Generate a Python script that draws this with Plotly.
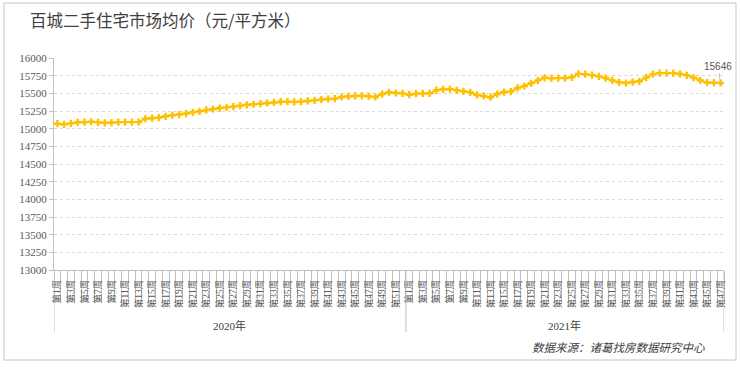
import plotly.graph_objects as go

title_text = "百城二手住宅市场均价（元/平方米）"
source_text = "数据来源：诸葛找房数据研究中心"
years = ["2020年", "2021年"]
weeks_2020 = ["第%d周" % i for i in range(1, 53)]
weeks_2021 = ["第%d周" % i for i in range(1, 48)]

prices_2020 = [15070, 15062, 15075, 15090, 15092, 15098, 15090, 15082, 15085, 15092,
               15093, 15093, 15093, 15142, 15150, 15156, 15175, 15190, 15200, 15212,
               15231, 15245, 15265, 15278, 15292, 15302, 15312, 15326, 15338, 15345,
               15354, 15363, 15372, 15382, 15382, 15378, 15382, 15392, 15401, 15413,
               15420, 15425, 15448, 15458, 15463, 15465, 15458, 15448, 15490, 15515,
               15505, 15500]
prices_2021 = [15481, 15495, 15500, 15500, 15543, 15557, 15560, 15543, 15529, 15514,
               15477, 15463, 15445, 15490, 15518, 15524, 15576, 15604, 15642, 15684,
               15720, 15712, 15715, 15715, 15727, 15776, 15772, 15758, 15740, 15716,
               15684, 15656, 15646, 15660, 15670, 15722, 15772, 15786, 15786, 15786,
               15774, 15755, 15722, 15684, 15651, 15651, 15646]
y_ticks = [13000, 13250, 13500, 13750, 14000, 14250, 14500, 14750, 15000,
           15250, 15500, 15750, 16000]

labels = weeks_2020 + weeks_2021
prices = prices_2020 + prices_2021
xs = list(range(len(prices)))
n20 = len(weeks_2020)
n_all = len(prices)

# show every other week label
tickvals = [i for i, w in enumerate(labels) if int(w[1:-1]) % 2 == 1]
ticktext = [labels[i] for i in tickvals]

GOLD = "#FFC000"
GRID = "#D9D9D9"
AXIS = "#BFBFBF"
TXT = "#595959"
SERIF = "Liberation Serif, Noto Sans CJK SC"

fig = go.Figure()
fig.add_trace(go.Scatter(
    x=xs, y=prices, mode="lines+markers",
    line=dict(color=GOLD, width=2),
    marker=dict(symbol="cross", size=6, color=GOLD),
    hoverinfo="skip", showlegend=False,
))

L, R, T, B = 54, 16, 58, 97
W, H = 740, 367
pw, ph = W - L - R, H - T - B

def px_x(p):
    return (p - L) / pw

def px_y(p):
    return (H - B - p) / ph

fig.update_layout(
    width=W, height=H,
    margin=dict(l=L, r=R, t=T, b=B, pad=0),
    paper_bgcolor="white", plot_bgcolor="white",
    xaxis=dict(
        range=[-0.5, n_all - 0.5],
        tickmode="array", tickvals=tickvals, ticktext=ticktext,
        tickangle=-90, ticks="", ticklabelstandoff=5,
        tickfont=dict(family=SERIF, size=9.5, color=TXT),
        showgrid=False, zeroline=False,
        showline=True, linecolor=AXIS, linewidth=1,
        minor=dict(ticks="outside", tickmode="linear", tick0=-0.5, dtick=1,
                   ticklen=32, tickcolor=AXIS, tickwidth=1, showgrid=False),
    ),
    yaxis=dict(
        range=[13000, 16000], tickmode="array", tickvals=y_ticks,
        ticktext=[str(v) for v in y_ticks],
        ticks="outside", ticklen=4, tickcolor=AXIS,
        tickfont=dict(family=SERIF, size=11, color=TXT),
        showgrid=True, gridcolor=GRID, griddash="dot", gridwidth=1,
        zeroline=False, showline=True, linecolor=AXIS, linewidth=1,
    ),
    font=dict(family="Noto Sans CJK SC"),
)

# group separators below axis
for xb in [-0.5, n20 - 0.5, n_all - 0.5]:
    fig.add_shape(type="line", xref="x", yref="paper", x0=xb, x1=xb,
                  y0=0, y1=px_y(332), line=dict(color=AXIS, width=1))

# outer frame
fig.add_shape(type="rect", xref="paper", yref="paper",
              x0=px_x(4), x1=px_x(736), y0=px_y(360), y1=px_y(3),
              line=dict(color="#D9D9D9", width=1.5))

# year labels
fig.add_annotation(x=(n20 - 1) / 2, y=px_y(325), xref="x", yref="paper",
                   text=years[0], showarrow=False, yanchor="middle",
                   font=dict(family=SERIF, size=11, color="#404040"))
fig.add_annotation(x=n20 + (n_all - n20 - 1) / 2, y=px_y(325), xref="x", yref="paper",
                   text=years[1], showarrow=False, yanchor="middle",
                   font=dict(family=SERIF, size=11, color="#404040"))

# title
fig.add_annotation(x=px_x(28), y=px_y(20), xref="paper", yref="paper",
                   text=title_text, showarrow=False, xanchor="left", yanchor="middle",
                   font=dict(family="Noto Sans CJK SC", size=16.5, color="#404040"))

# source
fig.add_annotation(x=px_x(707), y=px_y(347), xref="paper", yref="paper",
                   text="<i>" + source_text + "</i>", showarrow=False,
                   xanchor="right", yanchor="middle",
                   font=dict(family="Noto Sans CJK SC", size=11.5, color="#404040"))

# last value label
fig.add_annotation(x=xs[-1], y=prices[-1], xref="x", yref="y",
                   text=str(prices[-1]), showarrow=True, arrowhead=0,
                   arrowcolor=AXIS, arrowwidth=1, ax=-3, ay=-17,
                   font=dict(family="Liberation Sans, Arial", size=10, color=TXT))

fig.write_html("out.html", config={"displayModeBar": False},
               post_script="document.body.style.margin='0';document.body.style.overflow='hidden';")
